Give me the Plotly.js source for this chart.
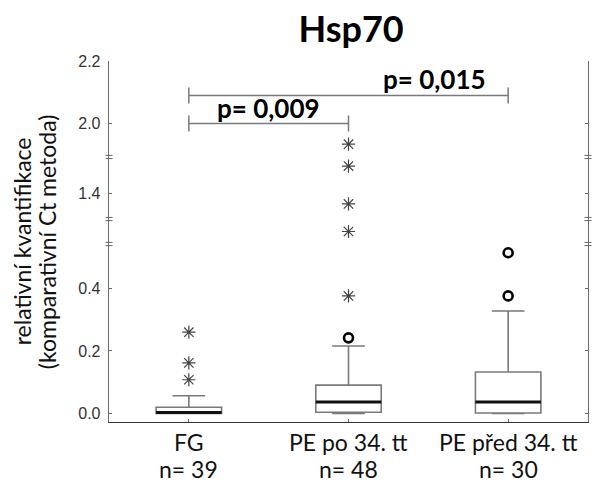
<!DOCTYPE html>
<html>
<head>
<meta charset="utf-8">
<script src="https://cdn.plot.ly/plotly-3.0.1.min.js"></script>
<style>
  html, body { margin: 0; padding: 0; background: #fff; }
  #chart { width: 593px; height: 482px; }
</style>
</head>
<body>
<div id="chart"></div>
<script>
// Hsp70 relative quantification per group (comparative Ct method)
const categories = ['FG', 'PE po 34. tt', 'PE před 34. tt'];
const groupN = [39, 48, 30];

// box statistics per group
const q1Vals = [0.0, 0.004, 0.002];
const medianVals = [0.003, 0.037, 0.037];
const q3Vals = [0.02, 0.091, 0.133];
const lowerFence = [0.0, 0.0, 0.0];
const upperFence = [0.057, 0.216, 0.328];

// extreme values (asterisks) and outliers (circles)
const extremeGroup = ['FG', 'FG', 'FG', 'PE po 34. tt', 'PE po 34. tt', 'PE po 34. tt', 'PE po 34. tt', 'PE po 34. tt'];
const extremeVals = [0.26, 0.162, 0.108, 0.376, 1.24, 1.365, 1.486, 1.934];
const outlierGroup = ['PE po 34. tt', 'PE před 34. tt', 'PE před 34. tt'];
const outlierVals = [0.242, 0.376, 0.514];

// significance brackets
const pFrom = ['FG', 'FG'];
const pTo = ['PE po 34. tt', 'PE před 34. tt'];
const pLevel = [2.0, 2.09];
const pText = ['p= 0,009', 'p= 0,015'];

// broken value axis: each piece has its own range and vertical share
const pieces = [
  { axis: 'y',  range: [-0.027, 0.542], domain: [0, 0.4931],      ticks: [0, 0.2, 0.4] },
  { axis: 'y2', range: [1.2, 1.28],     domain: [0.4931, 0.5623], ticks: [] },
  { axis: 'y3', range: [1.317, 1.515],  domain: [0.5623, 0.7341], ticks: [1.4] },
  { axis: 'y4', range: [1.893, 2.2],    domain: [0.7341, 1],      ticks: [2.0, 2.2] }
];

const TXT = 'Lato, "Open Sans", sans-serif';
const NUM = '"Liberation Sans", Arial, sans-serif';

function pieceFor(v) {
  return pieces.find(p => v >= p.range[0] && v <= p.range[1]) || pieces[0];
}

const traces = [];

// boxes: grey outline and whiskers
traces.push({
  type: 'box',
  x: categories,
  q1: q1Vals, median: medianVals, q3: q3Vals,
  lowerfence: lowerFence, upperfence: upperFence,
  width: 0.41,
  whiskerwidth: 0.5,
  fillcolor: 'rgba(0,0,0,0)',
  line: { color: '#7a7a7a', width: 1.6 },
  boxpoints: false,
  hoverinfo: 'skip',
  showlegend: false,
  xaxis: 'x', yaxis: 'y'
});
// heavy black median bars
traces.push({
  type: 'box',
  x: categories,
  q1: medianVals, median: medianVals, q3: medianVals,
  lowerfence: medianVals, upperfence: medianVals,
  width: 0.41,
  whiskerwidth: 0,
  fillcolor: 'rgba(0,0,0,0)',
  line: { color: '#111', width: 3 },
  boxpoints: false,
  hoverinfo: 'skip',
  showlegend: false,
  xaxis: 'x', yaxis: 'y'
});

function addPoints(groups, vals, marker) {
  pieces.forEach(p => {
    const xs = [], ys = [];
    vals.forEach((v, i) => {
      if (pieceFor(v) === p) { xs.push(groups[i]); ys.push(v); }
    });
    if (xs.length) {
      traces.push({
        type: 'scatter', mode: 'markers', x: xs, y: ys,
        marker: marker, hoverinfo: 'skip', showlegend: false,
        xaxis: 'x', yaxis: p.axis, cliponaxis: false
      });
    }
  });
}
addPoints(extremeGroup, extremeVals,
  { symbol: 'asterisk-open', size: 11, color: '#444', line: { color: '#444', width: 1.2 } });
addPoints(outlierGroup, outlierVals,
  { symbol: 'circle-open', size: 9, color: '#000', line: { color: '#000', width: 2.6 } });

const layout = {
  width: 593, height: 482,
  margin: { l: 109, r: 5, t: 61, b: 60 },
  paper_bgcolor: '#fff', plot_bgcolor: '#fff',
  showlegend: false,
  boxmode: 'overlay',
  title: {
    text: '<b>Hsp70</b>',
    font: { family: TXT, size: 36, color: '#000' },
    xref: 'container', x: 0.592, xanchor: 'center',
    yref: 'container', y: 0.94, yanchor: 'middle'
  },
  xaxis: {
    type: 'category',
    categoryorder: 'array', categoryarray: categories,
    range: [-0.5, 2.5],
    tickvals: categories,
    showticklabels: false,
    ticks: 'inside', ticklen: 3, tickcolor: '#666',
    showline: true, linecolor: '#333', linewidth: 1.3,
    showgrid: false, zeroline: false,
    anchor: 'y', fixedrange: true
  },
  xaxis2: {
    overlaying: 'x', anchor: 'y4', side: 'top',
    type: 'linear', range: [-0.5, 2.5], tickvals: [0, 1, 2],
    showticklabels: false, ticks: 'inside', ticklen: 3, tickcolor: '#666',
    showline: true, linecolor: '#333', linewidth: 1.3,
    showgrid: false, zeroline: false
  },
  annotations: [],
  shapes: []
};

pieces.forEach((p, i) => {
  const key = i === 0 ? 'yaxis' : 'yaxis' + (i + 1);
  layout[key] = {
    domain: p.domain,
    range: p.range,
    anchor: 'x',
    tickvals: p.ticks,
    ticktext: p.ticks.map(t => t.toFixed(1)),
    tickfont: { family: NUM, size: 16, color: '#333' },
    ticks: p.ticks.length ? 'inside' : '',
    ticklen: 3, tickcolor: '#666',
    ticklabelstandoff: 4,
    showline: true, linecolor: '#6e6e6e', linewidth: 1.3,
    mirror: 'ticks',
    showgrid: false, zeroline: false, fixedrange: true
  };
});

// category labels under the axis: group name, then group size
categories.forEach((c, i) => {
  layout.annotations.push({
    xref: 'x', yref: 'paper', x: c, y: 0, yshift: -20,
    xanchor: 'center', yanchor: 'middle', showarrow: false,
    text: c, font: { family: TXT, size: 23, color: '#111' }
  });
  layout.annotations.push({
    xref: 'x', yref: 'paper', x: c, y: 0, yshift: -47,
    xanchor: 'center', yanchor: 'middle', showarrow: false,
    text: 'n= ' + groupN[i], font: { family: TXT, size: 23, color: '#111' }
  });
});

// break marks where the value axis jumps
pieces.slice(1).forEach(p => {
  [0, 1].forEach(side => {
    [-1.6, 1.6].forEach(dy => {
      layout.shapes.push({
        type: 'line', xref: 'paper', yref: 'paper',
        xsizemode: 'pixel', xanchor: side, x0: -3.5, x1: 3.5,
        ysizemode: 'pixel', yanchor: p.domain[0], y0: dy, y1: dy,
        line: { color: '#666', width: 1 }
      });
    });
  });
});

// y-axis title, two lines
const yTitleLines = ['relativní kvantifikace', '(komparativní Ct metoda)'];
const yTitleX = [-0.182, -0.130];
yTitleLines.forEach((t, i) => {
  layout.annotations.push({
    xref: 'paper', yref: 'paper', x: yTitleX[i], y: 0.5,
    xanchor: 'center', yanchor: 'middle',
    textangle: -90, showarrow: false, text: t,
    font: { family: TXT, size: 23, color: '#111' }
  });
});

// significance brackets with p-values
const labelShare = [0.5, 0.77];
pFrom.forEach((from, i) => {
  const a = categories.indexOf(from);
  const b = categories.indexOf(pTo[i]);
  const line = { color: '#7a7a7a', width: 1.5 };
  layout.shapes.push({ type: 'line', xref: 'x', yref: 'y4',
    x0: a, x1: b, y0: pLevel[i], y1: pLevel[i], line: line });
  [a, b].forEach(xv => {
    layout.shapes.push({ type: 'line', xref: 'x', yref: 'y4',
      x0: xv, x1: xv, ysizemode: 'pixel', yanchor: pLevel[i], y0: -8, y1: 8,
      line: line });
  });
  layout.annotations.push({
    xref: 'x', yref: 'y4',
    x: a + (b - a) * labelShare[i], y: pLevel[i],
    xanchor: 'center', yanchor: 'bottom', yshift: -2,
    showarrow: false, text: '<b>' + pText[i] + '</b>',
    font: { family: TXT, size: 26, color: '#000' }
  });
});

Plotly.newPlot('chart', traces, layout, { staticPlot: true, displayModeBar: false });
</script>
</body>
</html>
